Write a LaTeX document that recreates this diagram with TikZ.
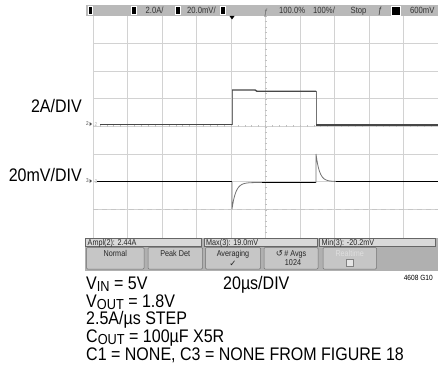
\documentclass[tikz,border=0pt]{standalone}
\usepackage{fontspec}
\setmainfont{Liberation Sans}[FakeStretch=0.88]
\newfontfamily\scopefont{Liberation Sans}[FakeStretch=0.85]
\newfontfamily\symfont{DejaVu Sans}
\usepackage{tikz}
\usetikzlibrary{positioning}
\newcommand{\lowsub}[1]{\raisebox{-2.5pt}[0pt][0pt]{\fontsize{14.5}{14.5}\selectfont #1}}

\begin{document}
\begin{tikzpicture}[x=1pt,y=-1pt]
% Define styles
\tikzstyle{gridline} = [draw=gray!35, line width=0.6pt]
\tikzstyle{axistick} = [draw=gray!50, line width=0.5pt]
\tikzstyle{refline} = [draw=gray!45, line width=1pt, dash pattern=on 5pt off 4pt]
\tikzstyle{traceA} = [draw=black!72, line width=1.4pt]
\tikzstyle{traceB} = [draw=black, line width=1.1pt]
\tikzstyle{edge} = [draw=black!55, line width=0.8pt]
\tikzstyle{barbox} = [fill=black, draw=white!75, line width=0.5pt]
\tikzstyle{bartext} = [inner sep=0pt, anchor=base west, text=black!80, font=\scopefont\fontsize{9}{9}\selectfont]
\tikzstyle{measbox} = [fill=gray!30, draw=black!60, line width=0.5pt]
\tikzstyle{meastext} = [inner sep=0pt, anchor=base west, text=black!85, font=\scopefont\fontsize{8.5}{8.5}\selectfont]
\tikzstyle{button} = [fill=gray!45, draw=black!55, line width=0.5pt, rounded corners=1pt]
\tikzstyle{btntext} = [inner sep=0pt, anchor=base, text=black!85, font=\scopefont\fontsize{8.5}{8.5}\selectfont]
\tikzstyle{caption} = [inner sep=0pt, anchor=base west, font=\fontsize{18.2}{18.2}\selectfont]
\tikzstyle{divlabel} = [inner sep=0pt, anchor=base east, font=\fontsize{18.2}{18.2}\selectfont]
\tikzstyle{chmark} = [inner sep=0pt, anchor=base, font=\scopefont\fontsize{5.5}{5.5}\selectfont]
\useasboundingbox[fill=white] (0,0) rectangle (438,385);
% Screen grid
\foreach \i in {0,...,10}
  \draw[gridline] ({93+34.5*\i},16) -- ({93+34.5*\i},237.5);
\foreach \j in {1,...,7}
  \draw[gridline] (93,{15.5+27.7*\j}) -- (438,{15.5+27.7*\j});
\foreach \k in {0,...,49}
  \draw[axistick] ({93+6.9*\k},125.3) -- ({93+6.9*\k},127.3);
\foreach \k in {0,...,39}
  \draw[axistick] (264.5,{16+5.54*\k}) -- (266.5,{16+5.54*\k});
\draw[refline] (93,209.3) -- (438,209.3);
% Top status bar
\fill[gray!55] (86,5) rectangle (438,16);
\draw[barbox] (88,6.5) rectangle (92,14.5);
\draw[barbox] (131,6.5) rectangle (136,14.5);
\node[bartext] (ch2scale) at (145.5,13.8) {2.0A/};
\draw[barbox] (175.5,6.5) rectangle (180.5,14.5);
\node[bartext] (ch3scale) at (187,13.8) {20.0mV/};
\draw[barbox] (220,6.5) rectangle (225.5,14.5);
\fill[black] (229.5,16) -- (234.5,16) -- (232,19.5) -- cycle;
\node[bartext, anchor=base, text=black!60] (trigpos) at (266,15.5) {ƒ};
\node[bartext] (delay) at (279,13.8) {100.0\%};
\node[bartext] (timebase) at (313,13.8) {100\%/};
\node[bartext] (runstate) at (350.5,13.8) {Stop};
\node[bartext] (trigedge) at (378,13.8) {ƒ};
\draw[barbox] (391,6) rectangle (400,15);
\node[bartext] (triglevel) at (410,13.8) {600mV};
% Channel markers
\node[chmark, text=black!70] (mk2) at (87.5,125) {2};
\fill[black!70] (89.5,122) -- (92,124) -- (89.5,126) -- cycle;
\node[chmark, text=gray!60] (lv2) at (96,126) {2};
\node[chmark, text=black!70] (mk3) at (87.5,182) {3};
\fill[black!70] (89.5,179) -- (92,181) -- (89.5,183) -- cycle;
\node[chmark, text=gray!60] (lv3) at (96,183) {3};
% Current trace (channel 2)
\draw[traceA] (100,124.5) -- (232,124.5);
\draw[edge] (232,124.5) -- (232,90);
\draw[traceA] (232,90) -- (255,90) -- (257,91.3) -- (316,91.3);
\draw[edge] (316,91.3) -- (316,125);
\draw[traceA] (316,125) -- (438,125);
% Output voltage trace (channel 3)
\draw[traceB] (97,181.5) -- (232,181.5);
\draw[edge] (232,181.5) -- (232,209) plot[domain=232:262, samples=40] (\x,{182.5+26.5*exp(-(\x-232)/3.8)});
\draw[traceB] (262,182.5) -- (316,182.5);
\draw[edge] (316,182.5) -- (316,154) plot[domain=316:336, samples=30] (\x,{181.5-27.5*exp(-(\x-316)/3.5)});
\draw[traceB] (336,181.5) -- (438,181.5);
% Measurement and softkey panel
\fill[gray!62] (85,237.5) rectangle (438,271);
\draw[measbox] (85.5,238.5) rectangle (201,246.5);
\draw[measbox] (204,238.5) rectangle (317,246.5);
\draw[measbox] (319.5,238.5) rectangle (435,246.5);
\node[meastext] (ampl) at (87.5,245.5) {Ampl(2): 2.44A};
\node[meastext] (vmax) at (206,245.5) {Max(3): 19.0mV};
\node[meastext] (vmin) at (321.5,245.5) {Min(3): -20.2mV};
\draw[button] (86.5,247.5) rectangle (144,269);
\draw[button] (148,247.5) rectangle (202.5,269);
\draw[button] (205.5,247.5) rectangle (260.5,269);
\draw[button] (264,247.5) rectangle (318,269);
\draw[button] (323,247.5) rectangle (376.5,269);
\node[btntext] (normal) at (115.25,256.5) {Normal};
\node[btntext] (peakdet) at (175.25,256.5) {Peak Det};
\node[btntext] (averaging) at (233,256.5) {Averaging};
\node[btntext] (avgcheck) at (233,266) {{\symfont ✓}};
\node[btntext] (navgs) at (291,256.5) {{\symfont ↺}\,\# Avgs};
\node[btntext] (navgval) at (293,265) {1024};
\node[btntext, text=gray!25] (realtime) at (349.75,256.5) {Realtime};
\draw[fill=gray!20, draw=black!50, line width=0.5pt] (346,259.5) rectangle (353,266);
% Scale labels
\node[divlabel] (ampdiv) at (82,112) {2A/DIV};
\node[divlabel] (voltdiv) at (82,181.7) {20mV/DIV};
% Conditions
\node[caption] (vin) at (86,289.3) {V\lowsub{IN} = 5V};
\node[caption] (timediv) at (223,289.3) {20µs/DIV};
\node[inner sep=0pt, anchor=base east, font=\fontsize{7.5}{7.5}\selectfont] (fignum) at (433,280) {4608 G10};
\node[caption] (vout) at (86,307) {V\lowsub{OUT} = 1.8V};
\node[caption] (slew) at (86,324.7) {2.5A/µs STEP};
\node[caption] (cout) at (86,342.3) {C\lowsub{OUT} = 100µF X5R};
\node[caption] (cnote) at (86,360) {C1 = NONE, C3 = NONE FROM FIGURE 18};
\end{tikzpicture}
\end{document}
